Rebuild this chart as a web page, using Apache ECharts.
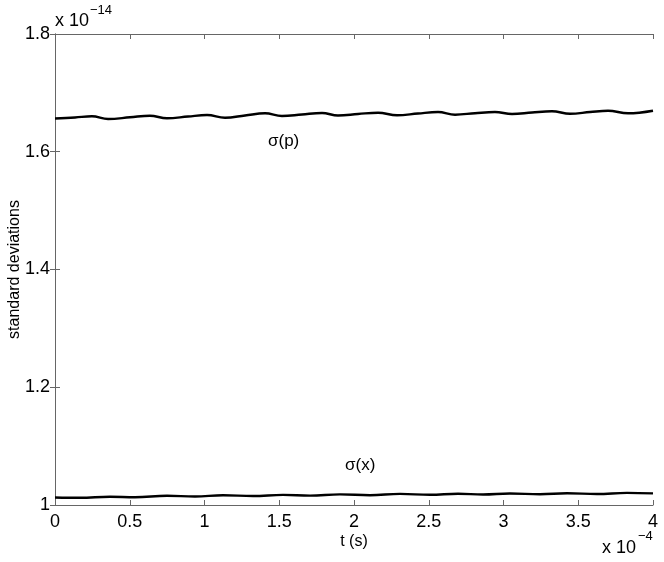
<!DOCTYPE html>
<html>
<head>
<meta charset="utf-8">
<script src="https://cdn.jsdelivr.net/npm/echarts@6/dist/echarts.min.js"></script>
<style>
  html, body { margin: 0; padding: 0; background: #fff; }
  #chart { width: 664px; height: 562px; }
</style>
</head>
<body>
<div id="chart"></div>
<script>
// =====================
// Data (t in 1e-4 s, sigma in 1e-14)
// =====================
const sigmaP_t = [0, 0.134, 0.247, 0.355, 0.502, 0.635, 0.749, 0.890, 1.017, 1.137, 1.271,
  1.405, 1.518, 1.652, 1.786, 1.893, 2.027, 2.161, 2.288, 2.428, 2.562, 2.676, 2.809,
  2.943, 3.057, 3.191, 3.324, 3.445, 3.579, 3.699, 3.833, 4.0]
const sigmaP = [1.6565, 1.6582, 1.6602, 1.6556, 1.6585, 1.6612, 1.6568, 1.6599, 1.6624, 1.6578, 1.6616,
  1.6653, 1.6607, 1.6633, 1.6658, 1.6616, 1.6641, 1.6663, 1.6619, 1.6650, 1.6675, 1.6629, 1.6655,
  1.6675, 1.6641, 1.6667, 1.6687, 1.6646, 1.6675, 1.6697, 1.6653, 1.6697]

const sigmaX_t = [0, 0.167, 0.368, 0.535, 0.749, 0.936, 1.124, 1.324, 1.525, 1.706, 1.906,
  2.107, 2.308, 2.508, 2.696, 2.863, 3.043, 3.244, 3.425, 3.625, 3.826, 4.0]
const sigmaX = [1.0127, 1.0122, 1.0139, 1.0131, 1.0156, 1.0144, 1.0165, 1.0153, 1.0172, 1.0160, 1.0180,
  1.0166, 1.0189, 1.0173, 1.0190, 1.0178, 1.0195, 1.0183, 1.0199, 1.0187, 1.0206, 1.0197]

const FONT = "Liberation Sans"
const AXIS_COLOR = "#666"

const chart = echarts.init(document.getElementById("chart"))

function xAxisCfg(pos, showLabels) {
  return {
    type: "value",
    position: pos,
    min: 0, max: 4, interval: 0.5,
    name: showLabels ? "t (s)" : "",
    nameLocation: "middle",
    nameGap: 29,
    nameMoveOverlap: false,
    nameTextStyle: { color: "#000", fontSize: 16, fontFamily: FONT },
    axisLine: { show: true, lineStyle: { color: AXIS_COLOR, width: 1 } },
    axisTick: { show: true, inside: true, length: 5, lineStyle: { color: AXIS_COLOR } },
    axisLabel: { show: showLabels, color: "#000", fontSize: 18, fontFamily: FONT, margin: 8 },
    splitLine: { show: false }
  }
}

function yAxisCfg(pos, showLabels) {
  return {
    type: "value",
    position: pos,
    min: 1, max: 1.8, interval: 0.2,
    name: showLabels ? "standard deviations" : "",
    nameLocation: "middle",
    nameGap: 32,
    nameMoveOverlap: false,
    nameRotate: 90,
    nameTextStyle: { color: "#000", fontSize: 16, fontFamily: FONT },
    axisLine: { show: true, lineStyle: { color: AXIS_COLOR, width: 1 } },
    axisTick: { show: true, inside: true, length: 5, lineStyle: { color: AXIS_COLOR } },
    axisLabel: { show: showLabels, color: "#000", fontSize: 18, fontFamily: FONT, margin: 5 },
    splitLine: { show: false }
  }
}

const option = {
  animation: false,
  backgroundColor: "#fff",
  grid: { left: 55, right: 11, top: 34, bottom: 57, containLabel: false, outerBoundsMode: "none" },
  xAxis: [xAxisCfg("bottom", true), xAxisCfg("top", false)],
  yAxis: [yAxisCfg("left", true), yAxisCfg("right", false)],
  series: [
    {
      name: "sigma(p)",
      type: "line",
      smooth: 0.4,
      symbol: "none",
      data: sigmaP_t.map((t, i) => [t, sigmaP[i]]),
      lineStyle: { color: "#000", width: 2.4 }
    },
    {
      name: "sigma(x)",
      type: "line",
      smooth: 0.4,
      symbol: "none",
      data: sigmaX_t.map((t, i) => [t, sigmaX[i]]),
      lineStyle: { color: "#000", width: 2.4 }
    }
  ],
  graphic: [
    { type: "text", left: 55, top: 12, style: { text: "x 10", fontSize: 18, fontFamily: FONT, fill: "#000" } },
    { type: "text", left: 90, top: 4, style: { text: "\u221214", fontSize: 13, fontFamily: FONT, fill: "#000" } },
    { type: "text", left: 602, top: 539, style: { text: "x 10", fontSize: 18, fontFamily: FONT, fill: "#000" } },
    { type: "text", left: 638, top: 530, style: { text: "\u22124", fontSize: 13, fontFamily: FONT, fill: "#000" } },
    { type: "text", left: 268, top: 133, style: { text: "\u03c3(p)", fontSize: 17, fontFamily: FONT, fill: "#000" } },
    { type: "text", left: 345, top: 457, style: { text: "\u03c3(x)", fontSize: 17, fontFamily: FONT, fill: "#000" } }
  ]
}

chart.setOption(option)
</script>
</body>
</html>
